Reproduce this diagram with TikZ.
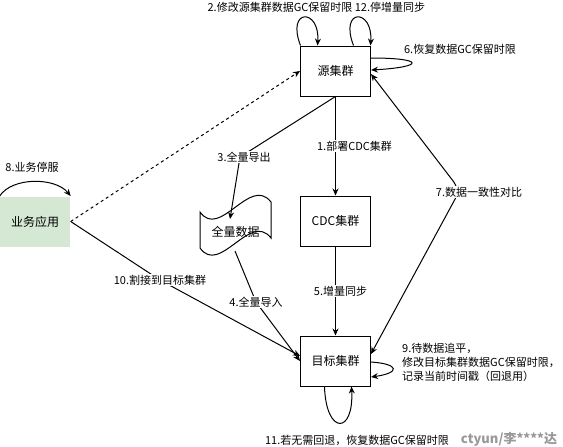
\documentclass[tikz,border=0pt]{standalone}
\usepackage{fontspec}
\setmainfont{Noto Sans CJK SC}
\usetikzlibrary{arrows.meta}
\definecolor{appgreen}{HTML}{D5E8D4}
\begin{document}
\begin{tikzpicture}[x=1pt,y=-1pt,
  box/.style={draw, line width=1pt, minimum width=70pt, minimum height=50pt, inner sep=0pt, font=\fontsize{12}{14}\selectfont},
  tip/.style={-{Stealth[length=7pt,width=6pt]}},
  conn/.style={line width=1pt, tip},
  lbl/.style={fill=white, inner sep=1pt, font=\fontsize{11}{14}\selectfont}]
\useasboundingbox (0,0) rectangle (563,447);

% nodes
\node[box] (src) at (335.5,71) {源集群};
\node[box] (cdc) at (335.5,221) {CDC集群};
\node[box] (tgt) at (335.5,361) {目标集群};
\node[box, draw=none, fill=appgreen] (app) at (35.2,221.5) {业务应用};

% tape shape
\draw[line width=1pt, fill=white] (200,212) .. controls (220,240) and (250,175) .. (271,202)
  -- (271,238) .. controls (250,211) and (220,276) .. (200,248) -- cycle;
\node[font=\fontsize{12}{14}\selectfont] (data) at (235.5,232) {全量数据};
\coordinate (tapetop) at (230,219);
\coordinate (tapebot) at (235,251);

% edges
\draw[conn] (src) -- (cdc) node[lbl, midway, xshift=19pt] {1.部署CDC集群};
\draw[conn] (cdc) -- (tgt) node[lbl, midway, xshift=5pt] {5.增量同步};

\coordinate (b3) at (240,157);
\draw[conn] (src.south) -- (b3) -- (tapetop);
\node[lbl] (l3) at (244,157) {3.全量导出};

\coordinate (b4) at (256,302);
\draw[conn] (tapebot) -- (b4) -- (tgt.west);
\node[lbl] (l4) at (256,302) {4.全量导入};

\coordinate (b10) at (160,280);
\draw[conn] (app.east) -- (b10) -- ([yshift=5pt]tgt.west);
\node[lbl] (l10) at (160,280) {10.割接到目标集群};

\draw[conn, dash pattern=on 3pt off 3pt] (app.east) -- (src.west);

\coordinate (b7) at (460,190);
\draw[line width=1pt, {Stealth[length=7pt,width=6pt]}-{Stealth[length=7pt,width=6pt]}, rounded corners=10pt]
  ([yshift=7pt]tgt.east) -- (b7) -- ([yshift=-3pt]src.east);
\node[lbl] (l7) at (479,192) {7.数据一致性对比};

% loops
\draw[conn] ([xshift=-35pt]src.north) .. controls (286,8) and (320,8) .. ([xshift=-18pt]src.north);
\draw[conn] ([xshift=18pt]src.north) .. controls (339,8) and (373,8) .. ([xshift=35pt]src.north);
\draw[conn] ([yshift=13pt]src.east) .. controls (425,58) and (425,67) .. ([yshift=1pt]src.east);
\draw[conn] ([yshift=-1pt]tgt.east) .. controls (400,364) and (400,373) .. ([yshift=-16pt]tgt.east);
\draw[conn] ([xshift=-11pt]tgt.south) .. controls (326,435) and (354,435) .. ([xshift=16pt]tgt.south);
\draw[conn] (app.north west) .. controls (12,177) and (55,177) .. (app.north east);

% labels
\node[lbl] (l2) at (280,7) {2.修改源集群数据GC保留时限};
\node[lbl] (l12) at (390,7) {12.停增量同步};
\node[lbl] (l6) at (460,49) {6.恢复数据GC保留时限};
\node[lbl] (l8) at (32,167) {8.业务停服};
\node[lbl, align=left, anchor=west] (l9) at (401,362) {9.待数据追平，\\修改目标集群数据GC保留时限，\\记录当前时间戳（回退用）};
\node[lbl] (l11) at (357,440) {11.若无需回退，恢复数据GC保留时限};
\node[font=\fontsize{13}{15}\selectfont\bfseries, text=black!40, inner sep=0pt] (wm) at (509,439) {ctyun/李****达};
\end{tikzpicture}
\end{document}
